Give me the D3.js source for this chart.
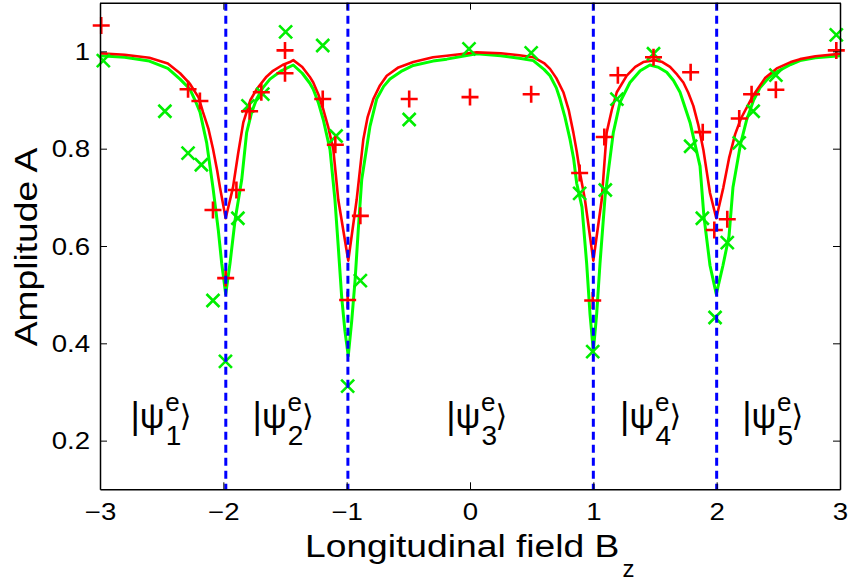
<!DOCTYPE html>
<html><head><meta charset="utf-8">
<script src="https://cdn.jsdelivr.net/npm/d3@7"></script>
<style>html,body{margin:0;padding:0;background:#fff;}svg{display:block;}</style>
</head><body>
<svg id="chart" width="848" height="583"></svg>
<script>
// ---------- data ----------
const xTicks = [-3, -2, -1, 0, 1, 2, 3];
const yTicks = [0.2, 0.4, 0.6, 0.8, 1];
const dividers = [-1.98, -0.99, 1.0, 2.0];
const stateIndex = ["1", "2", "3", "4", "5"];
const statePos = [-2.51, -1.52, 0.05, 1.46, 2.45];

const redCurve = [[-3.0,0.996],[-2.8,0.993],[-2.6,0.987],[-2.45,0.975],[-2.351,0.955],[-2.27,0.933],[-2.2,0.905],[-2.165,0.875],[-2.12,0.84],[-2.084,0.80],[-2.05,0.755],[-2.027,0.72],[-1.981,0.657],[-1.922,0.72],[-1.88,0.79],[-1.838,0.854],[-1.78,0.9],[-1.73,0.922],[-1.65,0.948],[-1.597,0.96],[-1.52,0.972],[-1.46,0.978],[-1.433,0.982],[-1.36,0.968],[-1.3,0.948],[-1.271,0.936],[-1.23,0.912],[-1.19,0.881],[-1.15,0.845],[-1.108,0.798],[-1.068,0.695],[-0.987,0.570],[-0.919,0.695],[-0.865,0.819],[-0.83,0.865],[-0.784,0.902],[-0.73,0.93],[-0.675,0.95],[-0.58,0.967],[-0.46,0.978],[-0.3,0.988],[-0.189,0.991],[0.054,0.998],[0.25,0.996],[0.4,0.992],[0.513,0.988],[0.6,0.976],[0.649,0.964],[0.7,0.945],[0.757,0.916],[0.8,0.88],[0.838,0.833],[0.865,0.795],[0.892,0.75],[0.932,0.695],[1.0,0.570],[1.068,0.695],[1.108,0.833],[1.15,0.88],[1.19,0.916],[1.271,0.95],[1.34,0.968],[1.405,0.978],[1.5,0.982],[1.56,0.978],[1.622,0.968],[1.68,0.952],[1.73,0.936],[1.77,0.915],[1.811,0.888],[1.85,0.85],[1.892,0.798],[1.946,0.709],[1.997,0.657],[2.054,0.72],[2.1,0.78],[2.15,0.83],[2.197,0.862],[2.297,0.91],[2.392,0.945],[2.487,0.965],[2.6,0.978],[2.676,0.984],[2.8,0.99],[3.0,0.995]];

const greenCurve = [[-3.0,0.991],[-2.8,0.988],[-2.6,0.98],[-2.45,0.965],[-2.351,0.943],[-2.27,0.922],[-2.23,0.9],[-2.189,0.875],[-2.135,0.812],[-2.084,0.72],[-2.041,0.633],[-2.013,0.564],[-1.981,0.501],[-1.946,0.564],[-1.905,0.653],[-1.851,0.736],[-1.811,0.833],[-1.77,0.875],[-1.73,0.902],[-1.68,0.925],[-1.622,0.943],[-1.53,0.96],[-1.433,0.972],[-1.36,0.955],[-1.3,0.935],[-1.271,0.922],[-1.23,0.895],[-1.19,0.860],[-1.135,0.798],[-1.095,0.695],[-1.068,0.598],[-1.04,0.494],[-1.014,0.425],[-0.987,0.374],[-0.959,0.446],[-0.932,0.529],[-0.906,0.633],[-0.878,0.736],[-0.811,0.846],[-0.757,0.902],[-0.7,0.928],[-0.649,0.943],[-0.55,0.96],[-0.46,0.971],[-0.3,0.98],[-0.189,0.984],[0.054,0.995],[0.25,0.991],[0.4,0.986],[0.513,0.981],[0.6,0.963],[0.649,0.95],[0.7,0.925],[0.73,0.902],[0.77,0.865],[0.811,0.819],[0.84,0.78],[0.865,0.729],[0.908,0.68],[0.946,0.564],[0.973,0.460],[1.0,0.384],[1.027,0.460],[1.054,0.564],[1.095,0.701],[1.162,0.833],[1.216,0.895],[1.297,0.936],[1.38,0.96],[1.459,0.972],[1.53,0.967],[1.595,0.957],[1.65,0.94],[1.703,0.916],[1.784,0.854],[1.865,0.764],[1.897,0.66],[1.946,0.56],[1.997,0.501],[2.051,0.56],[2.1,0.62],[2.132,0.72],[2.194,0.81],[2.244,0.86],[2.3,0.9],[2.351,0.925],[2.42,0.945],[2.487,0.958],[2.6,0.973],[2.676,0.981],[2.8,0.987],[3.0,0.991]];

const redPoints = [[-2.99,1.053],[-2.286,0.922],[-2.19,0.898],[-2.084,0.674],[-1.981,0.534],[-1.894,0.715],[-1.787,0.877],[-1.692,0.916],[-1.50,1.002],[-1.50,0.955],[-1.194,0.902],[-1.092,0.808],[-0.992,0.489],[-0.889,0.662],[-0.493,0.902],[0.0,0.906],[0.496,0.912],[0.889,0.75],[0.995,0.488],[1.089,0.824],[1.199,0.951],[1.488,0.988],[1.789,0.957],[1.887,0.834],[1.981,0.633],[2.086,0.655],[2.183,0.862],[2.283,0.912],[2.48,0.921],[2.97,1.002]];

const greenPoints = [[-2.973,0.981],[-2.474,0.877],[-2.286,0.791],[-2.178,0.767],[-2.084,0.488],[-1.983,0.363],[-1.882,0.657],[-1.80,0.888],[-1.68,0.912],[-1.495,1.04],[-1.194,1.012],[-1.086,0.826],[-0.992,0.312],[-0.889,0.529],[-0.493,0.86],[-0.008,1.005],[0.496,0.997],[0.889,0.708],[0.995,0.383],[1.097,0.715],[1.191,0.902],[1.488,0.995],[1.789,0.805],[1.884,0.657],[1.987,0.453],[2.086,0.607],[2.183,0.812],[2.296,0.877],[2.48,0.951],[2.97,1.034]];

// ---------- layout ----------
const L = 100, R = 840, T = 2.7, B = 489.3;
const svg = d3.select("#chart");
const x = d3.scaleLinear().domain([-3, 3]).range([L, R]);
const y = d3.scaleLinear().domain([0.1, 1.1]).range([B, T]);
const FONT = "'Liberation Sans', Arial, Helvetica, sans-serif";
const STRETCH = 1.2;

function stretch(sel) {
  sel.each(function () {
    const w = this.getComputedTextLength();
    d3.select(this).attr("textLength", w * STRETCH).attr("lengthAdjust", "spacingAndGlyphs");
  });
}

const g = svg.append("g");

// curves
const line = d3.line().x(d => x(d[0])).y(d => y(d[1]));
g.append("path").datum(greenCurve).attr("d", line)
  .attr("fill", "none").attr("stroke", "#00ff00").attr("stroke-width", 3).attr("stroke-linejoin", "round");
g.append("path").datum(redCurve).attr("d", line)
  .attr("fill", "none").attr("stroke", "#ff0000").attr("stroke-width", 2.6).attr("stroke-linejoin", "round");

// markers
g.selectAll(".gp").data(greenPoints).enter().append("path")
  .attr("transform", d => `translate(${x(d[0])},${y(d[1])})`)
  .attr("d", "M-6.5,-6.5L6.5,6.5M-6.5,6.5L6.5,-6.5")
  .attr("stroke", "#00ee00").attr("stroke-width", 2.6).attr("fill", "none");
g.selectAll(".rp").data(redPoints).enter().append("path")
  .attr("transform", d => `translate(${x(d[0])},${y(d[1])})`)
  .attr("d", "M-8.5,0H8.5M0,-8.5V8.5")
  .attr("stroke", "#ff0000").attr("stroke-width", 2.6).attr("fill", "none");

// dashed dividers
g.selectAll(".div").data(dividers).enter().append("line")
  .attr("x1", d => x(d)).attr("x2", d => x(d))
  .attr("y1", T).attr("y2", B)
  .attr("stroke", "#0000ff").attr("stroke-width", 3)
  .attr("stroke-dasharray", "8,5");

// axes box
const axisG = svg.append("g");
const xAxisB = d3.axisBottom(x).tickValues(xTicks).tickSizeInner(-7).tickSizeOuter(0).tickPadding(14)
  .tickFormat(d => d < 0 ? "\u2212" + Math.abs(d) : String(d));
const xAxisT = d3.axisTop(x).tickValues(xTicks).tickSizeInner(-7).tickSizeOuter(0).tickFormat("");
const yAxisL = d3.axisLeft(y).tickValues(yTicks).tickSizeInner(-7).tickSizeOuter(0).tickPadding(10)
  .tickFormat(d => String(d));
const yAxisR = d3.axisRight(y).tickValues(yTicks).tickSizeInner(-7).tickSizeOuter(0).tickFormat("");

const gxb = axisG.append("g").attr("transform", `translate(0,${B})`).call(xAxisB);
const gxt = axisG.append("g").attr("transform", `translate(0,${T})`).call(xAxisT);
const gyl = axisG.append("g").attr("transform", `translate(${L},0)`).call(yAxisL);
const gyr = axisG.append("g").attr("transform", `translate(${R},0)`).call(yAxisR);
[gxb, gxt, gyl, gyr].forEach(a => {
  a.select(".domain").attr("stroke", "#000").attr("stroke-width", 1.5);
  a.selectAll(".tick line").attr("stroke", "#000").attr("stroke-width", 1);
  a.selectAll("text").attr("font-family", FONT).attr("font-size", 23).attr("fill", "#000");
});
gxb.selectAll(".tick text").attr("dy", "0.71em").call(stretch);
gyl.selectAll(".tick text").attr("dy", "0.36em").call(stretch);

// axis titles
const xt = svg.append("text").attr("x", 305).attr("y", 557)
  .attr("font-family", FONT).attr("font-size", 31).attr("fill", "#000");
xt.append("tspan").text("Longitudinal field B").call(stretch);
xt.append("tspan").attr("dx", 3).attr("dy", 20).attr("font-size", 24).text("z");

svg.append("text")
  .attr("transform", "translate(37,247) rotate(-90)")
  .attr("text-anchor", "middle")
  .attr("font-family", FONT).attr("font-size", 31).attr("fill", "#000")
  .text("Amplitude A").call(stretch);

// state labels |psi^e_n>
const lab = svg.append("g");
statePos.forEach((p, i) => {
  const x0 = x(p) - 30;
  const t = lab.append("text").attr("x", x0).attr("y", 428)
    .attr("font-family", FONT).attr("font-size", 36).attr("fill", "#000");
  t.append("tspan").text("|");
  t.append("tspan").attr("font-size", 35).text("\u03C8");
  t.append("tspan").attr("dx", 1).attr("dy", 17).attr("font-size", 28).text(stateIndex[i]);
  t.append("tspan").attr("dx", -16).attr("dy", -34).attr("font-size", 26).text("e");
  t.append("tspan").attr("dx", 0).attr("dy", 15).attr("font-size", 30)
    .attr("font-family", "'DejaVu Sans', sans-serif").text("\u27E9");
});
</script>
</body></html>
